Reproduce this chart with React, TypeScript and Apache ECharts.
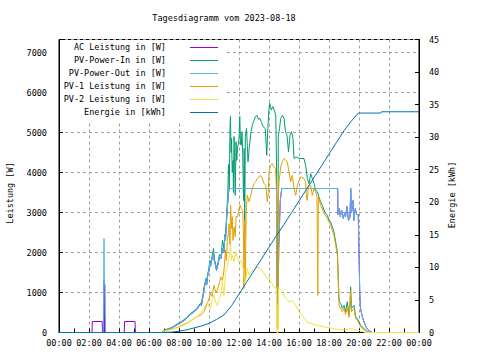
import React, { useEffect, useRef } from 'react';
import * as echarts from 'echarts';

const chartTitle = 'Tagesdiagramm vom 2023-08-18';
const leftAxisName = 'Leistung [W]';
const rightAxisName = 'Energie [kWh]';
const seriesNames = [
  'AC Leistung in [W]',
  'PV-Power-In in [W]',
  'PV-Power-Out in [W]',
  'PV-1 Leistung in [W]',
  'PV-2 Leistung in [W]',
  'Energie in [kWh]',
];
const seriesColors = ['#9400d3', '#009e73', '#56b4e9', '#e69f00', '#f0e442', '#0072b2'];

// [hour of day, value]
const acPower: [number, number][] = [
  [0, 0], [2.2, 0], [2.22, 275], [2.88, 275], [2.9, 0], [2.98, 0], [3.0, 1300], [3.02, 1300], [3.04, 0],
  [4.35, 0], [4.37, 275], [5.07, 275], [5.09, 0], [6.9, 0], [7.0, 50], [7.5, 110],
  [8.0, 220], [8.3, 290], [8.5, 350], [8.7, 430], [9.0, 520], [9.2, 580], [9.4, 700], [9.5, 680],
  [9.6, 900], [9.7, 1150], [9.8, 1300], [9.85, 1200], [9.9, 1400], [10.0, 1550], [10.05, 1750],
  [10.1, 1650], [10.2, 1850], [10.3, 2000], [10.35, 1800], [10.45, 1650], [10.5, 1550], [10.6, 1700],
  [10.7, 1900], [10.8, 1850], [10.9, 2100], [11.0, 2000], [11.05, 2400], [11.1, 2300], [11.2, 3000],
  [11.3, 3500], [11.35, 3600], [14.5, 3600], [14.55, 1000], [14.6, 800], [14.65, 2100], [14.75, 3300],
  [14.85, 3600], [18.58, 3600], [18.6, 2950], [18.7, 3100], [18.75, 2900], [18.85, 3050], [18.95, 2850],
  [19.05, 3000], [19.1, 2900], [19.2, 3150], [19.3, 2800], [19.4, 2900], [19.45, 3600], [19.5, 3000],
  [19.6, 3300], [19.65, 2800], [19.75, 3100], [19.85, 2950], [19.95, 2950], [20.05, 1000], [20.1, 600],
  [20.2, 430], [20.3, 300], [20.4, 200], [20.5, 120], [20.6, 60], [20.8, 20], [20.9, 0], [24, 0],
];

const pvPowerIn: [number, number][] = [
  [0, 0], [6.9, 0], [7.0, 60], [7.5, 120], [8.0, 240], [8.3, 310], [8.5, 370], [8.7, 450], [9.0, 540],
  [9.2, 600], [9.4, 720], [9.5, 750], [9.6, 950], [9.7, 1200], [9.8, 1350], [9.85, 1250], [9.9, 1450],
  [10.0, 1600], [10.05, 1800], [10.1, 1700], [10.2, 1900], [10.3, 2100], [10.35, 1850], [10.45, 1700],
  [10.5, 1600], [10.6, 1750], [10.7, 1950], [10.8, 1900], [10.9, 2300], [11.0, 2100], [11.05, 2450],
  [11.1, 2400], [11.2, 3100], [11.25, 3450], [11.3, 4200], [11.35, 3600], [11.4, 5100], [11.43, 5400],
  [11.47, 4500], [11.5, 4850], [11.55, 4000], [11.6, 4300], [11.63, 3500], [11.67, 4900], [11.7, 4400],
  [11.75, 3430], [11.8, 4770], [11.85, 4300], [11.9, 4600], [12.0, 4850], [12.05, 5400], [12.1, 4700],
  [12.15, 4680], [12.2, 5020], [12.25, 4430], [12.3, 3300], [12.35, 4600], [12.38, 2450], [12.42, 4900],
  [12.5, 5100], [12.6, 4270], [12.7, 4680], [12.8, 5020], [12.9, 5200], [13.0, 5300], [13.1, 5400],
  [13.2, 5430], [13.3, 5330], [13.4, 5350], [13.5, 5250], [13.6, 5150], [13.75, 5100], [13.85, 4430],
  [13.92, 5100], [14.0, 5600], [14.05, 5730], [14.15, 5560], [14.25, 5650], [14.35, 5560], [14.45, 5430],
  [14.5, 4270], [14.53, 700], [14.58, 700], [14.62, 4900], [14.7, 5100], [14.78, 5350], [14.9, 5430],
  [15.0, 5350], [15.1, 5020], [15.2, 4930], [15.3, 4520], [15.4, 4930], [15.5, 5020], [15.6, 4850],
  [15.67, 4350], [15.8, 4390], [16.0, 4350], [16.33, 4350], [16.44, 4180], [16.56, 3850], [16.67, 3720],
  [16.78, 3970], [16.89, 3850], [17.0, 3720], [17.11, 3560], [17.22, 3520], [17.33, 3390], [17.44, 3270],
  [17.56, 3180], [17.67, 3060], [17.78, 2980], [17.89, 2930], [18.0, 2810], [18.11, 2770], [18.22, 2640],
  [18.33, 2520], [18.44, 2270], [18.56, 2020], [18.6, 1600], [18.67, 770], [18.78, 730], [18.89, 600],
  [19.0, 680], [19.11, 520], [19.22, 770], [19.33, 430], [19.42, 700], [19.44, 1140], [19.5, 600],
  [19.67, 680], [19.78, 390], [19.89, 350], [20.0, 270], [20.11, 180], [20.33, 100], [20.56, 17],
  [20.78, 0], [24, 0],
];

const pvPowerOut: [number, number][] = [
  [0, 0], [2.95, 0], [3.0, 2350], [3.03, 1200], [3.08, 1200], [3.1, 0], [6.9, 0], [7.0, 50], [7.5, 110],
  [8.0, 220], [8.3, 290], [8.5, 350], [8.7, 430], [9.0, 520], [9.2, 580], [9.4, 700], [9.5, 680],
  [9.6, 900], [9.7, 1150], [9.8, 1300], [9.85, 1200], [9.9, 1400], [10.0, 1550], [10.05, 1750],
  [10.1, 1650], [10.2, 1850], [10.3, 2000], [10.35, 1800], [10.45, 1650], [10.5, 1550], [10.6, 1700],
  [10.7, 1900], [10.8, 1850], [10.9, 2100], [11.0, 2000], [11.05, 2400], [11.1, 2300], [11.2, 3000],
  [11.3, 3500], [11.35, 3600], [14.5, 3600], [14.55, 1000], [14.6, 800], [14.65, 2100], [14.75, 3300],
  [14.85, 3600], [18.58, 3600], [18.6, 2950], [18.7, 3100], [18.75, 2900], [18.85, 3050], [18.95, 2850],
  [19.05, 3000], [19.1, 2900], [19.2, 3150], [19.3, 2800], [19.4, 2900], [19.45, 3600], [19.5, 3000],
  [19.6, 3300], [19.65, 2800], [19.75, 3100], [19.85, 2950], [19.95, 2950], [20.05, 1000], [20.1, 600],
  [20.2, 430], [20.3, 300], [20.4, 200], [20.5, 120], [20.6, 60], [20.8, 20], [20.9, 0], [24, 0],
];

const pv1Power: [number, number][] = [
  [0, 0], [6.9, 0], [7.0, 30], [7.5, 80], [8.0, 140], [8.33, 200], [8.67, 267], [9.0, 350], [9.22, 400],
  [9.44, 430], [9.67, 520], [9.89, 725], [10.0, 850], [10.1, 975], [10.2, 900], [10.33, 1180],
  [10.45, 1000], [10.55, 1060], [10.7, 1250], [10.78, 1390], [10.9, 1300], [11.0, 1560], [11.1, 2060],
  [11.15, 1800], [11.22, 2300], [11.3, 2500], [11.33, 2720], [11.4, 2200], [11.44, 3180], [11.5, 2600],
  [11.55, 2900], [11.6, 2300], [11.67, 2640], [11.75, 2400], [11.8, 2900], [11.9, 2890], [12.0, 3100],
  [12.07, 3180], [12.15, 3100], [12.25, 3050], [12.3, 2350], [12.33, 1100], [12.38, 2800], [12.42, 1300],
  [12.48, 3000], [12.55, 3430], [12.67, 3270], [12.78, 3430], [12.89, 3600], [13.0, 3720], [13.11, 3770],
  [13.22, 3850], [13.33, 3890], [13.44, 3930], [13.55, 3850], [13.67, 3720], [13.78, 3680], [13.89, 3270],
  [13.95, 3500], [14.0, 4020], [14.11, 4180], [14.22, 4220], [14.33, 4140], [14.44, 4100], [14.5, 3500],
  [14.53, 100], [14.6, 100], [14.63, 3500], [14.67, 3770], [14.78, 4140], [14.89, 4270], [15.0, 4350],
  [15.11, 4310], [15.22, 4270], [15.33, 4020], [15.44, 3770], [15.55, 3930], [15.67, 3600], [15.78, 3430],
  [15.89, 3680], [16.0, 3800], [16.11, 3890], [16.33, 3850], [16.44, 3770], [16.5, 3350], [16.56, 3300],
  [16.62, 3640], [16.78, 3680], [16.89, 3430], [17.0, 3600], [17.11, 3520], [17.2, 3400], [17.25, 930],
  [17.29, 3400], [17.33, 3350], [17.44, 3180], [17.67, 2980], [17.89, 2850], [18.11, 2680], [18.33, 2430],
  [18.44, 2200], [18.56, 1930], [18.6, 1500], [18.67, 680], [18.78, 600], [18.89, 520], [19.0, 600],
  [19.11, 450], [19.22, 650], [19.33, 380], [19.44, 1050], [19.5, 520], [19.67, 600], [19.78, 340],
  [19.89, 300], [20.0, 220], [20.11, 140], [20.33, 70], [20.56, 10], [20.7, 0], [24, 0],
];

const pv2Power: [number, number][] = [
  [0, 0], [6.9, 0], [7.0, 40], [7.5, 80], [8.0, 130], [8.33, 180], [8.67, 260], [9.0, 340], [9.33, 430],
  [9.67, 600], [9.89, 770], [10.0, 650], [10.1, 600], [10.2, 780], [10.33, 930], [10.45, 750],
  [10.55, 680], [10.7, 850], [10.78, 930], [10.89, 1270], [11.0, 930], [11.1, 1520], [11.2, 1600],
  [11.33, 1850], [11.44, 2180], [11.5, 1800], [11.55, 1930], [11.67, 1770], [11.78, 2020], [11.89, 1850],
  [12.0, 1770], [12.11, 1810], [12.22, 1680], [12.33, 1520], [12.44, 1270], [12.55, 1600], [12.67, 1430],
  [12.78, 1520], [13.0, 1560], [13.22, 1640], [13.44, 1600], [13.67, 1470], [13.89, 1350], [14.0, 1390],
  [14.11, 1270], [14.33, 1140], [14.5, 1100], [14.53, 0], [14.6, 0], [14.63, 1140], [14.89, 1020],
  [15.11, 850], [15.33, 770], [15.55, 800], [15.78, 680], [16.0, 520], [16.2, 420], [16.55, 260],
  [17.0, 200], [17.33, 170], [17.67, 140], [18.11, 110], [18.56, 80], [19.0, 60], [19.44, 100],
  [19.89, 60], [20.22, 30], [20.4, 0], [24, 0],
];

const energy: [number, number][] = [
  [0, 0], [7.0, 0], [7.5, 0.05], [8.0, 0.2], [8.5, 0.4], [9.0, 0.7], [9.5, 1.0], [10.0, 1.4], [10.5, 2.0],
  [11.0, 2.7], [11.5, 4.1], [12.0, 5.9], [12.5, 7.7], [13.0, 9.5], [13.5, 11.3], [14.0, 13.1], [14.5, 14.9],
  [15.0, 16.6], [15.5, 18.4], [16.0, 20.2], [16.5, 22.0], [17.0, 23.8], [17.5, 25.6], [18.0, 27.4],
  [18.5, 29.2], [19.0, 31.0], [19.5, 32.5], [19.95, 33.7], [21.45, 33.7], [21.5, 33.9], [24, 33.9],
];

const FONT = '"DejaVu Sans Mono", monospace';

export default function App() {
  const ref = useRef<HTMLDivElement>(null);
  useEffect(() => {
    if (!ref.current) return;
    const chart = echarts.init(ref.current, undefined, { renderer: 'svg' });
    const allData = [acPower, pvPowerIn, pvPowerOut, pv1Power, pv2Power, energy];
    const legendRowY = [47, 60, 73, 86, 99, 112];
    const txt = (extra: any) => ({
      font: `8.5px ${FONT}`, fill: '#000', textVerticalAlign: 'middle', verticalAlign: 'middle', ...extra,
    });
    const graphics: any[] = [
      { type: 'rect', z: 50, shape: { x: 60, y: 40, width: 164, height: 81 }, style: { fill: '#ffffff' } },
      { type: 'text', z: 51, x: 224, y: 18, style: txt({ text: chartTitle, textAlign: 'center', align: 'center' }) },
      { type: 'text', z: 51, x: 9.5, y: 193, rotation: Math.PI / 2, style: txt({ text: leftAxisName, textAlign: 'center', align: 'center' }) },
      { type: 'text', z: 51, x: 452, y: 195, rotation: Math.PI / 2, style: txt({ text: rightAxisName, textAlign: 'center', align: 'center' }) },
    ];
    seriesNames.forEach((name, i) => {
      graphics.push({ type: 'text', z: 51, x: 166, y: legendRowY[i], style: txt({ text: name, textAlign: 'right', align: 'right' }) });
      graphics.push({
        type: 'line', z: 51,
        shape: { x1: 190, y1: legendRowY[i] + 0.5, x2: 218, y2: legendRowY[i] + 0.5 },
        style: { stroke: seriesColors[i], lineWidth: 1 },
      });
    });

    chart.setOption({
      animation: false,
      backgroundColor: '#ffffff',
      grid: { left: 59, top: 39.5, width: 360, height: 293, show: true, borderColor: '#000', borderWidth: 1, backgroundColor: 'transparent' },
      xAxis: {
        type: 'value', min: 0, max: 24, interval: 2,
        axisLine: { show: true, lineStyle: { color: '#000', width: 1 } },
        axisTick: { show: true, inside: true, length: 4, lineStyle: { color: '#000' } },
        minorTick: { show: true, splitNumber: 2, length: 4, lineStyle: { color: '#000' } },
        axisLabel: {
          margin: 6, color: '#000', fontFamily: FONT, fontSize: 8.5,
          formatter: (v: number) => String(Math.round(v) % 24).padStart(2, '0') + ':00',
        },
        splitLine: { show: true, lineStyle: { color: '#a0a0a0', width: 1, type: [3, 3] } },
      },
      yAxis: [
        {
          type: 'value', min: 0, max: 7325, interval: 1000, position: 'left',
          axisLine: { show: true, lineStyle: { color: '#000', width: 1 } },
          axisTick: { show: true, inside: true, length: 4, lineStyle: { color: '#000' } },
          axisLabel: {
            margin: 12, color: '#000', fontFamily: FONT, fontSize: 8.5,
            formatter: (v: number) => (v % 1000 === 0 ? String(v) : ''),
          },
          splitLine: { show: true, lineStyle: { color: '#a0a0a0', width: 1, type: [3, 3] } },
        },
        {
          type: 'value', min: 0, max: 45, interval: 5, position: 'right',
          axisLine: { show: true, lineStyle: { color: '#000', width: 1 } },
          axisTick: { show: true, inside: true, length: 4, lineStyle: { color: '#000' } },
          axisLabel: { margin: 10, color: '#000', fontFamily: FONT, fontSize: 8.5 },
          splitLine: { show: false },
        },
      ],
      series: seriesNames.map((name, i) => ({
        name,
        type: 'line',
        yAxisIndex: i === 5 ? 1 : 0,
        data: allData[i],
        showSymbol: false,
        symbol: 'none',
        z: 2 + i,
        lineStyle: { color: seriesColors[i], width: 1 },
        itemStyle: { color: seriesColors[i] },
      })),
      graphic: graphics,
    });
    return () => chart.dispose();
  }, []);
  return (
    <div style={{ position: 'fixed', left: 0, top: 0, width: 480, height: 360, background: '#fff' }}>
      <div ref={ref} style={{ width: 480, height: 360 }} />
    </div>
  );
}
